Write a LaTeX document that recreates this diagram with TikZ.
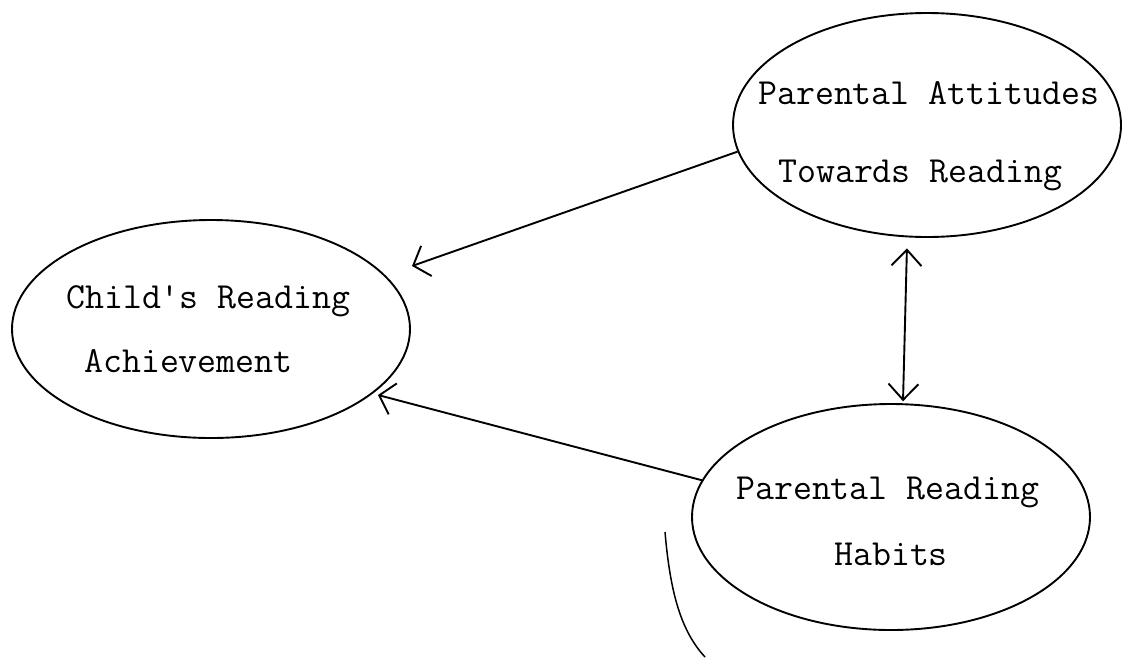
\documentclass[tikz,border=0pt]{standalone}
\usetikzlibrary{shapes.geometric,arrows.meta}
\begin{document}
\begin{tikzpicture}[x=1pt,y=-1pt,
  bubble/.style={draw, ellipse, line width=1.9pt, inner sep=0pt},
  label/.style={anchor=base west, inner sep=0pt, font=\ttfamily\fontsize{36.8}{40}\selectfont},
  link/.style={line width=1.9pt, -{Straight Barb[length=14pt,width=32pt,line width=1.9pt]}},
  twoway/.style={line width=1.9pt, {Straight Barb[length=16pt,width=30pt,line width=1.9pt]}-{Straight Barb[length=16pt,width=30pt,line width=1.9pt]}}
]
\useasboundingbox (0,0) rectangle (1123,657);
% ellipses
\node[bubble, minimum width=398pt, minimum height=218pt] (C) at (211,329) {};
\node[bubble, minimum width=388pt, minimum height=224pt] (A) at (927,125) {};
\node[bubble, minimum width=398pt, minimum height=226pt] (H) at (891,517) {};
% texts
\node[label] (c1) at (66,308) {Child's Reading};
\node[label] (c2) at (84,372) {Achievement};
\node[label] (a1) at (758,104) {Parental Attitudes};
\node[label] (a2) at (778,182) {Towards Reading};
\node[label] (h1) at (736,499) {Parental Reading};
\node[label] (h2) at (834,565) {Habits};
% arrow ends
\coordinate (tipA) at (412,266);
\coordinate (tipH) at (378,395);
% connectors
\draw[link] (A.188) -- (tipA);
\draw[link] (H.169) -- (tipH);
\draw[twoway, shorten <=11pt, shorten >=2pt] (A.260) -- (H.84);
% stray pen line
\draw[line width=1.5pt] (665,532) .. controls (670,590) and (680,630) .. (705,657);
\end{tikzpicture}
\end{document}
